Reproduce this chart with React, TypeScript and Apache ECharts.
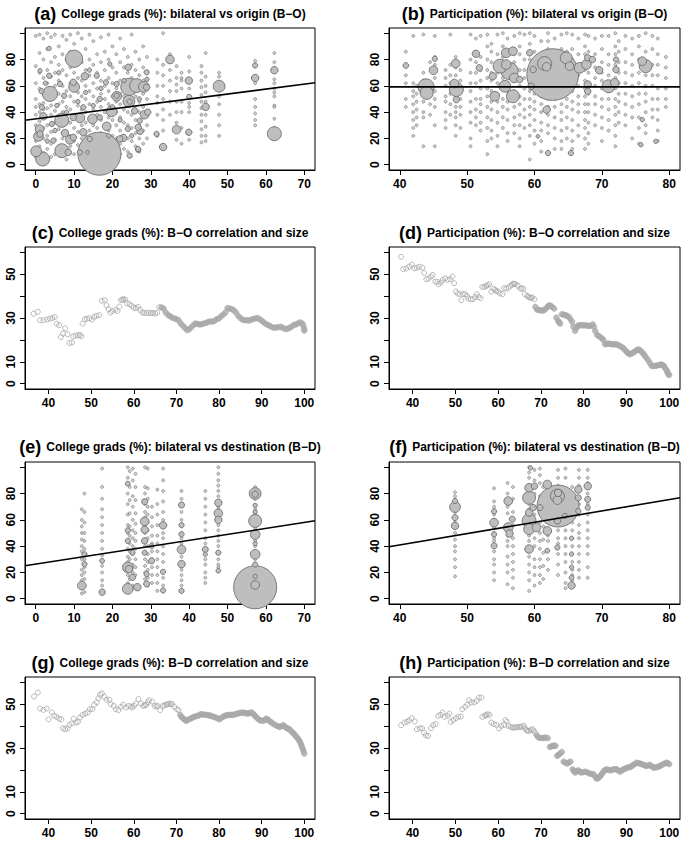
import React, { useEffect, useRef } from "react";
import * as echarts from "echarts";

// ---------- Titles ----------
const panelLetters = ["(a)", "(b)", "(c)", "(d)", "(e)", "(f)", "(g)", "(h)"];
const panelTitles = [
  "College grads (%): bilateral vs origin (B\u2212O)",
  "Participation (%): bilateral vs origin (B\u2212O)",
  "College grads (%): B\u2212O correlation and size",
  "Participation (%): B\u2212O correlation and size",
  "College grads (%): bilateral vs destination (B\u2212D)",
  "Participation (%): bilateral vs destination (B\u2212D)",
  "College grads (%): B\u2212D correlation and size",
  "Participation (%): B\u2212D correlation and size",
];

// ---------- Tick values ----------
const ticksX0to70 = [0, 10, 20, 30, 40, 50, 60, 70];
const ticksX40to80 = [40, 50, 60, 70, 80];
const ticksX40to100 = [40, 50, 60, 70, 80, 90, 100];
const ticksY0to100 = [0, 20, 40, 60, 80, 100];
const labelsY0to80 = [0, 20, 40, 60, 80];
const ticksY0to60 = [0, 10, 20, 30, 40, 50, 60];
const labelsY0to60 = [0, 10, 30, 50];

// ---------- Panel (a): College grads B-O ----------
const aDotCols: [number, number[]][] = [
  [0, [98, 75, 62, 50, 44, 38, 30, 18, 6]],
  [1, [99, 85, 70, 58, 46, 40, 33, 25, 14, 3]],
  [2, [96, 80, 66, 55, 47, 42, 36, 28, 20, 9]],
  [3, [100, 88, 72, 62, 50, 43, 30, 22, 12]],
  [4, [97, 78, 67, 57, 45, 38, 25, 16, 6]],
  [5, [99, 82, 70, 60, 52, 41, 32, 19, 8]],
  [6, [90, 76, 64, 54, 46, 37, 27, 14]],
  [7, [98, 84, 72, 60, 48, 40, 30, 20, 10]],
  [8, [95, 80, 68, 56, 44, 34, 24, 12, 4]],
  [9, [99, 86, 74, 62, 52, 42, 32, 22, 14]],
  [10, [92, 70, 58, 48, 38, 28, 18, 8]],
  [11, [100, 82, 66, 55, 45, 35, 25, 15]],
  [12, [96, 78, 64, 52, 42, 30, 20, 10]],
  [13, [88, 72, 60, 50, 40, 32, 22, 12]],
  [14, [99, 80, 68, 56, 46, 36, 26, 16]],
  [15, [94, 76, 62, 52, 42, 30, 20, 6]],
  [16, [84, 70, 58, 48, 38, 28, 18]],
  [17, [97, 78, 64, 54, 44, 34, 24]],
  [18, [86, 72, 60, 50, 40, 30]],
  [19, [99, 80, 66, 56, 46, 36, 26]],
  [20, [90, 74, 62, 52, 44, 34, 22, 14]],
  [21, [84, 70, 58, 48, 40, 30, 20, 10]],
  [22, [96, 78, 64, 54, 46, 36, 26, 16, 8]],
  [23, [88, 74, 62, 52, 42, 32, 22, 12]],
  [24, [82, 70, 58, 50, 40, 30, 20, 10]],
  [25, [99, 76, 66, 56, 46, 38, 28, 18]],
  [26, [86, 72, 62, 52, 42, 34, 24, 14]],
  [27, [80, 68, 58, 48, 40, 30, 20, 10]],
  [28, [90, 74, 64, 54, 44, 36, 26, 16]],
  [29, [82, 70, 60, 50, 40, 30, 20]],
  [31.7, [80, 70, 60, 52, 47, 38, 22]],
  [33.2, [100, 76, 68, 60, 50, 42, 34, 26]],
  [35, [84, 72, 64, 56, 48, 38]],
  [36.7, [75, 66, 61, 56, 48, 40, 32, 19]],
  [38, [70, 66, 64, 58, 48, 40, 28, 16]],
  [40, [82, 71, 58, 47, 44, 40, 19]],
  [43.2, [75, 70, 64, 59, 53, 48, 43, 38, 33, 27, 22, 17]],
  [44.3, [85, 67, 60, 55, 48, 38, 29, 22, 18]],
  [47.8, [70, 67, 52, 46, 38, 30, 22]],
  [57.2, [79, 76, 67, 65, 62, 50, 44, 39, 34, 30]],
  [62.2, [85, 78, 65, 62, 58, 55, 52, 45, 44, 35, 28]],
];
const aBubbles: [number, number, number][] = [
  [16.6, 8.4, 400], [10, 80.6, 64], [3.7, 53.9, 49], [6.8, 10.7, 42], [0.1, 10.2, 25],
  [1.8, 4.3, 42], [6.8, 33.8, 42], [14.8, 34.8, 20], [24.4, 59.2, 64], [26.3, 60.2, 42],
  [24.3, 48.3, 30], [10, 59.2, 25], [21.1, 52.1, 20], [19.8, 40.7, 25], [28.2, 59.2, 25],
  [28.4, 38.1, 16], [35, 80, 16], [36.7, 26.7, 16], [33.2, 13.5, 12], [39.9, 64, 12],
  [39.9, 24.7, 9], [40, 51.6, 6], [44.3, 44, 12], [47.8, 59.7, 30], [62.2, 23.6, 42],
  [62.2, 71.9, 12], [57.2, 66, 12], [57.2, 75.5, 6], [26.7, 11.4, 6], [1.0, 27.2, 16],
  [0.7, 21.6, 20], [2, 36.8, 12], [7.6, 24.1, 12], [11.5, 35.6, 20], [8.9, 19, 16],
  [12.8, 67.3, 12], [18.5, 29.2, 16], [22.8, 20.3, 12], [27.2, 25.4, 9],
  [3.5, 88.5, 4], [3.5, 67.7, 6], [1.1, 23.4, 9], [9.8, 62.7, 9], [12.4, 24.7, 12],
  [9.8, 36, 9], [9.8, 20.8, 9], [6.3, 61.4, 6], [7.4, 52.4, 6], [16.7, 50, 6],
  [21.1, 52.5, 6], [24.1, 74.1, 9], [24.5, 48, 6], [26.7, 28.5, 9], [26.7, 12, 6],
  [31.5, 23.4, 6], [19.3, 76.6, 4], [15.9, 67.7, 6], [18.3, 62.7, 6], [21.1, 61.4, 6],
  [25.8, 41, 9], [28.9, 58.9, 9], [28.9, 70.3, 6], [1.1, 71.5, 4], [1.5, 56, 6],
  [1.6, 43.7, 6], [4.2, 31, 6], [4.6, 18.3, 6], [8.5, 9.4, 9], [11.5, 9.4, 6],
  [14.1, 19.6, 6], [12.4, 43.7, 6], [16.7, 36, 6], [21.9, 19.6, 9], [24, 27.2, 6],
  [24.5, 6.9, 6], [27.1, 33.5, 6], [29.2, 40, 9], [13.5, 9.5, 3],
  [2.5, 62, 4], [5.5, 45, 4], [8, 40, 4], [13, 55, 4], [15, 45, 4], [17, 58, 4],
  [20, 44, 4], [22, 34, 4], [23, 64, 4], [25, 22, 4], [27, 50, 4], [29, 65, 4],
  [3, 18, 4], [5, 26, 4], [11, 48, 4], [19, 22, 4], [14, 72, 4], [6, 70, 4],
];
const aFit = { intercept: 34.9, slope: 0.377 };

// ---------- Panel (b): Participation B-O ----------
const bDotCols: [number, number[]][] = [
  [40.9, [86, 75, 68, 62, 50, 44]],
  [42, [98, 62, 56, 52, 46, 40, 34, 28, 22]],
  [42.5, [60, 54, 48, 42, 36, 30]],
  [43.5, [99, 70, 64, 56, 48, 40, 36, 14]],
  [44.5, [78, 62, 54, 46, 38]],
  [45.2, [98, 82, 76, 66, 56, 50, 44, 30, 14]],
  [46.8, [72, 66, 60, 52, 48, 40, 34, 28]],
  [47.5, [99, 76, 68, 62, 54, 46, 38]],
  [48.3, [82, 74, 68, 60, 52, 44, 40, 36, 30, 22]],
  [49, [72, 64, 56, 50, 44, 38, 28]],
  [50.5, [99, 80, 70, 62, 56, 48, 40, 32, 20, 14]],
  [51.3, [96, 78, 70, 62, 50, 42, 36, 30]],
  [52, [98, 82, 72, 64, 58, 50, 46, 40, 32, 26]],
  [53, [99, 90, 80, 72, 66, 58, 52, 44, 36, 28, 18, 8]],
  [53.6, [92, 86, 78, 70, 64, 56, 48, 42, 34, 26, 20]],
  [54.5, [99, 84, 78, 70, 62, 54, 48, 40, 32, 22, 14]],
  [55.3, [100, 90, 82, 74, 66, 58, 50, 44, 36, 28]],
  [56, [96, 68, 62, 56, 48, 42, 34, 24, 18]],
  [57, [98, 84, 78, 70, 64, 56, 44, 36, 30, 24]],
  [57.8, [100, 90, 84, 72, 66, 60, 52, 46, 38, 30, 20, 14]],
  [58.5, [99, 80, 72, 66, 58, 50, 42, 36, 28]],
  [59.3, [100, 92, 80, 72, 64, 56, 50, 44, 38, 30, 22, 4]],
  [60, [98, 86, 78, 68, 60, 54, 48, 42, 34, 26, 16]],
  [61, [94, 52, 46, 40, 32, 26, 18, 10]],
  [62, [100, 94, 88, 50, 44, 38, 30, 24]],
  [63, [96, 50, 44, 36, 28, 20, 12]],
  [64, [99, 88, 70, 60, 52, 46, 40, 34, 26, 18, 12]],
  [64.8, [100, 86, 64, 56, 50, 44, 36, 28, 20]],
  [65.6, [99, 88, 80, 70, 62, 56, 48, 42, 34, 26, 18, 12]],
  [66.5, [96, 84, 68, 60, 52, 46, 40, 30, 22]],
  [67.5, [99, 90, 84, 72, 64, 58, 52, 46, 40, 34, 28, 20, 12]],
  [68, [98, 86, 70, 62, 54, 46, 40, 32, 24, 16]],
  [69, [96, 84, 74, 66, 60, 52, 46, 38, 30]],
  [70, [98, 88, 78, 70, 64, 58, 50, 44, 36, 28, 18]],
  [71, [98, 84, 76, 68, 56, 50, 42, 34, 26]],
  [72, [100, 90, 84, 76, 66, 58, 50, 44, 38, 30, 22, 14]],
  [72.5, [94, 86, 78, 70, 62, 54, 48, 40, 32]],
  [73.5, [98, 88, 78, 70, 62, 54, 46, 38, 30]],
  [74.5, [96, 84, 76, 68, 60, 52, 44, 36, 20]],
  [75.5, [98, 90, 80, 70, 62, 54, 46, 36, 28, 16]],
  [76.5, [100, 86, 76, 68, 60, 54, 48, 40, 30, 24]],
  [77.5, [98, 88, 76, 68, 60, 50, 42, 36]],
  [78.3, [96, 84, 76, 68, 58, 50, 42, 34, 26, 18]],
  [79.5, [82, 74, 66, 58, 50, 44]],
];
const bBubbles: [number, number, number][] = [
  [62.7, 68.6, 576], [61.5, 77, 42], [61.8, 74.5, 16], [43.9, 59.2, 56], [44, 54.6, 36],
  [48.4, 57.2, 42], [48.1, 61.8, 16], [48.3, 77, 16], [48.4, 49.6, 9], [45, 71.9, 16],
  [40.9, 75.5, 7], [45.2, 80.6, 6], [51.3, 84.4, 12], [51.8, 73.7, 9], [55.8, 85.1, 20],
  [56.8, 86.4, 16], [54.9, 75, 42], [55.8, 76.2, 20], [56.3, 71.2, 64], [57, 66, 20],
  [55.6, 59.7, 30], [56.8, 52.1, 36], [54.1, 52.1, 20], [53.8, 67.3, 12], [57.8, 64.8, 9],
  [59.3, 85.1, 9], [59.8, 72.4, 9], [59.5, 59.7, 9], [61.8, 41.9, 12], [62, 8.9, 6],
  [65.4, 8.9, 6], [64.7, 81.3, 30], [65.2, 75, 16], [66.7, 73.7, 25], [67.7, 76.2, 20],
  [67.9, 81.3, 9], [68.6, 80, 9], [67.9, 61, 12], [67.9, 55.9, 9], [69.6, 71.9, 12],
  [71, 59.7, 36], [71.9, 62.3, 16], [72.1, 72.4, 9], [72.1, 80, 6], [76.5, 75, 36],
  [76, 78.8, 16], [75.8, 15.2, 4], [76, 34.3, 4], [78, 17.8, 4], [60.5, 21.6, 3],
];
const bFit = { intercept: 59.2, slope: 0 };

// ---------- Panel (e): College grads B-D ----------
const eDotCols: [number, number[]][] = [
  [12, [68, 60, 55, 50, 45, 40, 36, 30, 22, 18, 14, 8, 4]],
  [12.7, [80, 66, 58, 50, 44, 38, 30, 24, 20, 15, 10, 5]],
  [17.3, [99, 85, 76, 68, 62, 56, 50, 44, 38, 33, 25, 20, 14, 10]],
  [24, [100, 92, 80, 72, 64, 56, 50, 44, 38, 32, 28, 18, 12]],
  [24.5, [97, 85, 75, 65, 55, 48, 42, 36, 30, 22, 15]],
  [25.3, [99, 90, 78, 70, 60, 52, 46, 40, 34, 26, 20, 10]],
  [26, [95, 85, 75, 65, 57, 50, 44, 38, 30, 24, 18, 8]],
  [28.5, [100, 85, 80, 72, 66, 62, 56, 50, 45, 40, 35, 30, 25, 20, 15]],
  [29.2, [99, 84, 76, 70, 64, 58, 52, 46, 40, 34, 28, 22, 16, 10]],
  [30.3, [70, 62, 55, 48, 42, 36, 30, 24, 18, 12]],
  [31.7, [83, 72, 64, 56, 48, 42, 36, 30, 24, 18, 12, 6]],
  [33.2, [99, 90, 82, 74, 66, 60, 50, 46, 40, 34, 28, 16, 10]],
  [38, [82, 76, 66, 60, 56, 50, 46, 42, 32, 28, 22, 18, 14, 10, 6]],
  [44.2, [82, 76, 70, 64, 58, 52, 46, 42, 30, 26, 20, 16, 12]],
  [47.6, [100, 95, 90, 86, 82, 78, 70, 68, 56, 52, 48, 44, 40, 30, 26, 24]],
  [57.2, [85, 76, 68, 64, 54, 44, 40, 30, 22, 18, 15]],
];
const eBubbles: [number, number, number][] = [
  [57.2, 8.75, 400], [57.2, 80, 30], [57.2, 79.5, 9], [57.2, 59.2, 36], [57.2, 48.8, 20],
  [57.2, 33.8, 20], [57.2, 10.5, 16], [57.2, 26, 6], [57.2, 71, 4], [57.2, 66, 4],
  [57.2, 42, 4], [57.2, 17, 4], [38, 37.5, 16], [38, 26.3, 12], [38, 71.3, 8],
  [38, 56, 6], [38, 49, 6], [38, 6, 6], [44.2, 37.5, 8], [44.2, 33.8, 4],
  [47.6, 73, 12], [47.6, 65, 16], [47.6, 60, 12], [47.6, 35, 6], [47.6, 21.3, 5],
  [24, 23.8, 25], [24.3, 22.5, 12], [24, 7.5, 25], [26.5, 8.8, 12], [28.4, 58.8, 16],
  [28.4, 52.5, 12], [28.4, 73.8, 8], [28.9, 11.3, 8], [28.9, 18.8, 6], [30.2, 28.8, 8],
  [33.2, 55.8, 12], [33.2, 6.3, 6], [33.2, 20.5, 6], [12, 10, 16], [12.7, 26.3, 6],
  [12.7, 33.8, 6], [17.3, 5, 9], [17.3, 28.8, 5], [24, 87.5, 5], [25.2, 16.3, 9],
  [24, 44, 6], [24, 52, 6], [28.4, 44, 9], [28.4, 35, 6], [25.2, 35, 6], [30.2, 40, 5],
];
const eFit = { intercept: 26.3, slope: 0.453 };

// ---------- Panel (f): Participation B-D ----------
const fDotCols: [number, number[]][] = [
  [48.2, [81, 78, 66, 58, 50, 45, 40, 36, 30, 24, 17]],
  [54, [84, 74, 70, 64, 60, 54, 50, 46, 44, 36, 30, 26, 20, 14]],
  [56, [88, 80, 70, 65, 48, 44, 40, 32, 26, 20, 11]],
  [56.8, [85, 76, 66, 56, 46, 40, 34, 28, 22, 16, 8]],
  [59.2, [100, 96, 92, 72, 68, 48, 44, 32, 26, 20, 14, 6]],
  [60, [98, 90, 80, 70, 64, 46, 40, 30, 24, 18, 10]],
  [60.8, [99, 94, 88, 78, 68, 58, 50, 44, 38, 30, 24, 18, 12]],
  [61.3, [85, 75, 65, 55, 45, 35, 25, 15]],
  [62, [82, 74, 66, 58, 48, 44, 30, 22]],
  [63.5, [98, 92, 86, 60, 52, 46, 42, 34, 26, 18]],
  [64.6, [99, 92, 82, 74, 68, 58, 52, 46, 40, 34, 28, 20, 12, 8]],
  [65.6, [85, 78, 70, 64, 58, 52, 46, 40, 34, 28, 22, 18, 14]],
  [66.6, [98, 92, 86, 72, 64, 56, 50, 46, 40, 34, 28, 22, 16]],
  [67.9, [98, 92, 88, 80, 72, 64, 58, 52, 46, 40, 34, 24, 16]],
];
const fBubbles: [number, number, number][] = [
  [63.5, 70.5, 380], [63.4, 78, 42], [63.4, 75, 16], [63.5, 80.5, 12], [48.2, 69.8, 25],
  [48.2, 55.4, 12], [48.2, 61.7, 8], [48.2, 74.3, 6], [54, 57.9, 16], [54, 40.3, 8],
  [54, 66.5, 6], [54, 49, 6], [56.1, 74.3, 16], [56.1, 54.2, 20], [56.3, 49.6, 12],
  [56.7, 60.5, 8], [59.2, 84.4, 16], [59.2, 76.8, 36], [59.2, 59.2, 42], [59.2, 52.9, 25],
  [59.2, 37.8, 16], [59.2, 65.5, 12], [59.8, 69.3, 9], [60.3, 54.2, 16], [60, 85.6, 9],
  [61.9, 86.9, 16], [61.9, 51.6, 16], [61.9, 36.5, 5], [63.4, 39, 6], [63.4, 59.2, 9],
  [66.5, 83.1, 12], [66.5, 76.8, 8], [66.5, 66.7, 6], [67.9, 85.6, 12], [67.9, 75.6, 8],
  [67.9, 69.3, 6], [65.5, 10.1, 12], [65.5, 16, 5], [65.5, 24, 4], [65.5, 34, 4],
  [65.5, 46, 4], [64.5, 63, 6], [59.4, 99.5, 4], [60.8, 69.3, 8],
];
const fFit = { intercept: 40.9, slope: 0.863, x0: 40 };

// ---------- Panels (c,d,g,h): correlation vs size ----------
const cPts: [number, number][] = [
  [36.5, 32.0], [37.5, 32.8], [38.0, 29.0], [38.8, 29.0], [39.6, 29.3], [40.3, 29.7], [40.9, 30.0], [41.5, 30.5],
  [41.9, 27.4], [42.5, 26.7], [42.9, 21.3], [43.4, 22.9], [43.9, 25.3], [44.5, 22.6], [44.9, 18.6], [45.5, 18.8],
  [45.8, 21.6], [46.4, 22.0], [47.0, 22.1], [47.4, 22.3], [47.7, 21.6], [48.0, 27.4], [48.5, 29.4], [49.0, 29.7],
  [49.6, 29.9], [50.2, 29.3], [50.7, 30.5], [51.3, 31.0], [51.9, 31.3], [52.5, 37.8], [53.2, 38.1], [53.6, 35.8],
  [54.1, 34.0], [54.5, 32.5], [55.0, 33.2], [55.7, 33.7], [56.2, 33.2], [56.6, 35.2], [57.0, 38.1], [57.3, 38.4],
  [57.6, 38.6], [58.0, 38.4], [58.4, 36.7], [59.0, 36.3], [59.5, 35.5], [60.0, 34.8], [60.5, 34.5], [61.0, 35.0],
  [61.5, 33.7], [62.0, 32.5], [62.5, 32.3], [63.0, 32.3], [63.5, 32.4], [64.0, 32.2], [64.5, 32.3], [65.0, 32.0],
  [65.5, 32.4], [66.0, 35.0], [66.5, 34.8], [67.0, 34.3], [67.5, 32.5], [68.0, 31.5], [68.5, 30.8], [69.0, 30.2],
  [69.5, 29.8], [70.0, 29.5], [70.5, 29.0], [71.0, 27.5], [71.5, 26.5], [72.0, 25.5], [72.5, 24.5], [73.0, 24.8],
  [73.5, 25.8], [74.0, 26.8], [74.5, 27.5], [75.0, 27.3], [75.5, 27.0], [76.0, 27.2], [76.5, 27.5], [77.0, 27.8],
  [77.5, 28.2], [78.0, 28.5], [78.5, 28.3], [79.0, 28.8], [79.5, 29.5], [80.0, 29.8], [80.5, 30.8], [81.0, 31.5],
  [81.5, 32.5], [82.0, 34.5], [82.5, 34.3], [83.0, 34.0], [83.5, 33.5], [84.0, 32.5], [84.5, 31.0], [85.0, 30.0],
  [85.5, 29.3], [86.0, 29.0], [86.5, 29.0], [87.0, 28.8], [87.5, 29.2], [88.0, 29.5], [88.5, 29.8], [89.0, 30.0],
  [89.5, 29.5], [90.0, 28.8], [90.5, 28.0], [91.0, 27.3], [91.5, 26.8], [92.0, 26.3], [92.5, 25.8], [93.0, 25.5],
  [93.5, 25.7], [94.0, 25.8], [94.5, 26.0], [95.0, 25.5], [95.5, 25.0], [96.0, 25.0], [96.5, 25.5], [97.0, 26.0],
  [97.5, 26.8], [98.0, 27.0], [98.5, 27.5], [99.0, 28.0], [99.5, 27.5], [99.8, 26.5], [100.0, 25.0], [100.0, 24.2],
];
const dPts: [number, number][] = [
  [37.3, 57.9], [37.8, 52.3], [38.5, 52.6], [39.2, 53.5], [39.8, 54.3], [40.4, 52.7], [41.0, 53.0], [41.6, 53.4],
  [42.3, 53.0], [42.7, 50.6], [43.2, 47.7], [43.7, 48.0], [44.3, 48.9], [44.7, 49.7], [45.3, 46.6], [45.8, 46.5],
  [46.1, 45.4], [46.6, 46.2], [47.0, 47.3], [47.6, 48.0], [48.2, 47.4], [48.8, 47.7], [49.3, 48.9], [49.7, 45.9],
  [50.1, 42.1], [50.5, 41.2], [51.0, 40.9], [51.4, 38.1], [51.8, 40.9], [52.3, 40.9], [52.7, 40.1], [53.0, 38.9],
  [53.6, 38.6], [54.1, 38.6], [54.6, 39.6], [55.0, 40.9], [55.4, 39.6], [55.9, 39.0], [56.3, 44.2], [56.8, 44.2],
  [57.2, 44.6], [57.5, 45.0], [57.9, 45.4], [58.4, 42.1], [58.9, 43.4], [59.3, 42.8], [59.6, 42.3], [60.0, 42.1],
  [60.4, 41.2], [61.0, 40.9], [61.4, 43.6], [61.9, 43.4], [62.4, 43.9], [62.9, 44.7], [63.2, 45.2], [63.5, 45.7],
  [63.8, 45.6], [64.1, 45.4], [64.6, 44.7], [65.2, 43.4], [65.5, 43.5], [65.9, 43.4], [66.2, 40.9], [66.8, 40.1],
  [67.1, 39.6], [67.4, 39.3], [67.7, 39.2], [68.0, 39.3], [68.5, 38.6], [68.7, 35.1], [69.1, 33.8], [69.5, 33.6],
  [69.9, 33.5], [70.3, 33.4], [70.7, 33.5], [71.0, 34.0], [71.4, 34.8], [71.7, 35.4], [72.0, 35.8], [72.3, 35.5],
  [72.6, 35.1], [73.1, 34.3], [73.6, 30.2], [74.0, 28.7], [74.3, 28.0], [74.5, 27.4], [74.9, 31.7], [75.3, 31.5],
  [75.7, 31.3], [76.1, 31.0], [76.5, 30.5], [76.9, 29.5], [77.3, 28.2], [77.6, 26.0], [78.0, 24.1], [78.3, 25.5],
  [78.6, 26.4], [78.9, 26.6], [79.2, 26.7], [79.6, 26.7], [80.0, 26.6], [80.4, 26.7], [80.8, 26.5], [81.2, 26.4],
  [81.5, 26.4], [82.1, 27.1], [82.4, 26.0], [82.7, 24.1], [83.1, 22.3], [83.5, 21.8], [83.9, 21.3], [84.3, 20.6],
  [84.6, 20.0], [85.0, 18.0], [85.4, 18.2], [85.8, 18.3], [86.2, 18.2], [86.6, 18.0], [87.0, 18.0], [87.3, 18.0],
  [87.7, 18.0], [88.1, 17.6], [88.5, 17.2], [88.9, 16.7], [89.3, 16.2], [89.7, 15.3], [90.1, 14.5], [90.4, 13.9],
  [90.8, 13.4], [91.2, 13.8], [91.6, 14.2], [92.0, 14.8], [92.4, 15.3], [92.8, 15.7], [93.2, 15.2], [93.6, 14.5],
  [94.0, 13.6], [94.3, 12.7], [94.7, 11.7], [95.1, 10.7], [95.5, 9.4], [95.9, 8.1], [96.3, 8.1], [96.7, 8.1],
  [97.1, 8.3], [97.5, 8.5], [97.9, 8.6], [98.2, 8.8], [98.5, 8.4], [98.8, 8.1], [99.1, 7.0], [99.4, 6.1],
  [99.6, 5.2], [99.8, 4.3], [100.0, 4.0],
];
const gPts: [number, number][] = [
  [36.6, 53.5], [37.5, 55.3], [38.0, 48.0], [38.8, 47.4], [39.6, 48.0], [40.0, 43.1], [40.8, 46.2], [41.3, 44.7],
  [41.9, 44.2], [42.5, 43.4], [43.0, 43.1], [43.4, 39.0], [43.9, 38.6], [44.5, 38.9], [44.9, 40.5], [45.5, 41.2],
  [45.9, 43.4], [46.4, 41.6], [46.9, 41.9], [47.4, 43.9], [48.0, 45.1], [48.6, 45.7], [49.2, 46.2], [49.7, 47.7],
  [50.3, 47.7], [50.7, 49.7], [51.3, 50.8], [51.7, 52.7], [52.1, 54.3], [52.5, 54.9], [53.1, 53.4], [53.6, 52.0],
  [54.3, 52.0], [54.6, 50.0], [55.3, 49.2], [55.8, 47.7], [56.4, 47.3], [57.0, 48.8], [57.5, 49.7], [58.2, 48.5],
  [58.8, 49.2], [59.3, 48.9], [59.7, 48.5], [60.1, 49.3], [60.5, 50.3], [61.1, 52.3], [61.7, 50.3], [62.2, 49.2],
  [62.6, 49.5], [62.9, 49.7], [63.3, 50.8], [63.6, 51.8], [64.3, 51.2], [64.9, 49.2], [65.3, 49.0], [65.6, 49.2],
  [66.2, 47.3], [66.8, 49.2], [67.2, 49.5], [67.6, 49.7], [68.0, 50.0], [68.3, 50.3], [68.7, 50.1], [69.0, 50.0],
  [69.5, 48.8], [70.1, 47.7], [70.5, 47.3], [70.9, 45.1], [71.2, 44.2], [71.5, 43.6], [71.9, 43.0], [72.3, 42.4],
  [72.6, 42.8], [73.0, 43.1], [73.4, 43.5], [73.8, 43.9], [74.2, 44.2], [74.6, 44.5], [75.0, 44.7], [75.4, 45.0],
  [75.8, 45.4], [76.2, 45.3], [76.6, 45.2], [77.0, 45.1], [77.4, 45.0], [77.8, 44.8], [78.1, 44.7], [78.5, 44.4],
  [78.9, 44.1], [79.3, 43.9], [79.7, 43.5], [80.1, 43.1], [80.5, 43.6], [80.9, 44.2], [81.3, 44.6], [81.7, 44.9],
  [82.1, 45.1], [82.5, 45.1], [82.9, 45.1], [83.2, 45.1], [83.6, 45.3], [84.0, 45.5], [84.4, 45.7], [84.8, 45.9],
  [85.2, 46.1], [85.6, 46.2], [86.0, 46.0], [86.4, 45.8], [86.7, 45.7], [87.1, 45.9], [87.4, 46.1], [87.7, 46.2],
  [88.1, 45.4], [88.4, 44.8], [88.7, 44.2], [89.1, 43.4], [89.5, 42.7], [89.9, 42.5], [90.4, 42.4], [90.8, 42.9],
  [91.1, 43.4], [91.5, 42.9], [91.8, 42.4], [92.2, 41.8], [92.6, 41.2], [93.1, 40.6], [93.6, 40.1], [94.0, 39.8],
  [94.3, 39.6], [94.7, 40.0], [95.1, 40.4], [95.5, 39.7], [95.9, 39.0], [96.2, 38.8], [96.5, 38.6], [96.9, 37.8],
  [97.3, 37.0], [97.6, 36.4], [97.9, 35.8], [98.2, 35.0], [98.5, 34.3], [98.8, 33.5], [99.0, 32.8], [99.2, 31.8],
  [99.4, 30.9], [99.6, 29.8], [99.8, 28.7], [100.0, 27.4],
];
const hPts: [number, number][] = [
  [37.3, 40.4], [38.1, 41.6], [38.7, 41.9], [39.2, 42.7], [39.8, 43.6], [40.5, 42.1], [41.0, 38.6], [41.7, 39.0],
  [42.2, 39.0], [42.7, 37.0], [43.1, 35.8], [43.6, 35.5], [44.3, 39.0], [44.8, 40.5], [45.4, 40.9], [46.0, 44.7],
  [46.6, 45.1], [47.0, 46.2], [47.5, 44.2], [48.2, 44.7], [48.6, 45.7], [48.9, 41.9], [49.5, 42.7], [50.1, 43.6],
  [50.7, 44.2], [51.3, 44.4], [51.6, 47.7], [52.3, 48.8], [52.8, 49.7], [53.2, 51.8], [53.7, 50.8], [54.4, 50.8],
  [55.0, 51.5], [55.5, 53.0], [56.1, 53.0], [56.3, 44.2], [56.9, 44.7], [57.2, 45.0], [57.5, 45.4], [58.0, 45.1],
  [58.4, 41.6], [59.0, 40.9], [59.6, 40.5], [60.2, 39.0], [60.7, 40.1], [61.4, 40.5], [61.7, 42.8], [62.0, 42.0],
  [62.4, 40.1], [62.9, 39.6], [63.3, 39.4], [63.7, 39.3], [64.1, 39.4], [64.5, 39.6], [64.9, 39.6], [65.2, 39.6],
  [65.6, 39.8], [66.0, 40.1], [66.3, 39.0], [66.6, 38.1], [66.9, 37.9], [67.2, 37.8], [67.6, 38.2], [68.0, 38.6],
  [68.3, 38.0], [68.7, 37.0], [69.0, 35.8], [69.4, 34.8], [69.8, 34.6], [70.3, 34.5], [70.7, 34.6], [71.1, 34.8],
  [71.6, 34.5], [72.1, 30.5], [72.5, 30.8], [72.8, 31.0], [73.1, 31.0], [73.4, 31.0], [73.8, 26.4], [74.1, 26.9],
  [74.5, 27.4], [74.9, 28.2], [75.3, 23.8], [75.7, 23.3], [76.1, 22.9], [76.5, 23.3], [76.9, 23.8], [77.4, 20.3],
  [77.7, 19.5], [78.0, 18.8], [78.4, 19.3], [78.7, 19.8], [79.0, 19.3], [79.4, 18.8], [79.9, 19.0], [80.4, 19.2],
  [80.9, 18.8], [81.4, 18.3], [81.8, 18.2], [82.3, 18.0], [82.7, 17.0], [83.0, 16.0], [83.3, 16.2], [83.5, 16.5],
  [83.8, 17.0], [84.1, 17.7], [84.4, 18.6], [84.7, 19.5], [85.0, 19.9], [85.4, 20.3], [85.8, 20.0], [86.2, 19.8],
  [86.6, 20.0], [87.0, 20.3], [87.4, 20.3], [87.7, 20.3], [88.1, 19.8], [88.5, 19.2], [88.9, 19.7], [89.3, 20.3],
  [89.7, 20.6], [90.1, 21.0], [90.5, 21.2], [90.9, 21.3], [91.3, 21.8], [91.6, 22.3], [92.0, 22.8], [92.4, 23.3],
  [92.8, 23.1], [93.2, 22.9], [93.6, 22.6], [94.0, 22.3], [94.4, 22.0], [94.7, 21.8], [95.1, 22.0], [95.5, 22.3],
  [95.9, 21.6], [96.3, 21.0], [96.7, 21.1], [97.1, 21.3], [97.5, 21.5], [97.8, 21.8], [98.2, 22.2], [98.6, 22.6],
  [99.0, 23.0], [99.4, 23.3], [99.7, 23.0], [100.0, 22.6],
];
// x beyond which the points crowd into a solid band
const cDenseFrom = 66.5;
const dDenseFrom = 68.6;
const gDenseFrom = 70.8;
const hDenseFrom = 69;

// ---------- Layout ----------
const FONT = "'Liberation Sans', Arial, Helvetica, sans-serif";
const rowTops = [28, 247, 462, 677];
const titleYs = [14, 233, 447, 663];
const colLefts = [25, 389];
const colWidths = [290, 291];
const plotH = 142;

type Range = { min: number; max: number };
const rA: Range = { min: -2.8, max: 72.8 };
const rB: Range = { min: 38.4, max: 81.6 };
const rC: Range = { min: 34.48, max: 102.52 };
const rY100: Range = { min: -4, max: 104 };
const rY60: Range = { min: -2.4, max: 62.4 };

function flattenCols(cols: [number, number[]][]) {
  const out: number[][] = [];
  cols.forEach(([x, ys]) => ys.forEach((y) => out.push([x, y])));
  return out;
}

export default function App() {
  const ref = useRef<HTMLDivElement>(null);
  useEffect(() => {
    if (!ref.current) return;
    const chart = echarts.init(ref.current, undefined, { renderer: "svg" });

    const grids: any[] = [];
    const xAxes: any[] = [];
    const yAxes: any[] = [];
    const series: any[] = [];
    const graphics: any[] = [];

    const axisCommon = {
      type: "value",
      splitLine: { show: false },
      axisLine: { show: true, onZero: false, lineStyle: { color: "#000", width: 1 } },
      axisTick: { show: true, length: 5, lineStyle: { color: "#000", width: 1 } },
    };
    const labelCommon = {
      color: "#000",
      fontWeight: "bold",
      fontSize: 12,
      fontFamily: FONT,
      margin: 8,
    };

    const panels = [
      { xr: rA, xt: ticksX0to70, yr: rY100, yt: ticksY0to100, yl: labelsY0to80 },
      { xr: rB, xt: ticksX40to80, yr: rY100, yt: ticksY0to100, yl: labelsY0to80 },
      { xr: rC, xt: ticksX40to100, yr: rY60, yt: ticksY0to60, yl: labelsY0to60 },
      { xr: rC, xt: ticksX40to100, yr: rY60, yt: ticksY0to60, yl: labelsY0to60 },
      { xr: rA, xt: ticksX0to70, yr: rY100, yt: ticksY0to100, yl: labelsY0to80 },
      { xr: rB, xt: ticksX40to80, yr: rY100, yt: ticksY0to100, yl: labelsY0to80 },
      { xr: rC, xt: ticksX40to100, yr: rY60, yt: ticksY0to60, yl: labelsY0to60 },
      { xr: rC, xt: ticksX40to100, yr: rY60, yt: ticksY0to60, yl: labelsY0to60 },
    ];

    panels.forEach((p, i) => {
      const row = Math.floor(i / 2);
      const col = i % 2;
      const left = colLefts[col];
      const width = colWidths[col];
      const top = rowTops[row];
      grids.push({
        left, top, width, height: plotH,
        show: true, borderColor: "#000", borderWidth: 1, backgroundColor: "transparent",
        containLabel: false,
      });
      xAxes.push({
        ...axisCommon,
        gridIndex: i,
        min: p.xr.min,
        max: p.xr.max,
        axisTick: { ...axisCommon.axisTick, customValues: p.xt },
        axisLabel: { ...labelCommon, customValues: p.xt },
      });
      yAxes.push({
        ...axisCommon,
        gridIndex: i,
        min: p.yr.min,
        max: p.yr.max,
        axisTick: { ...axisCommon.axisTick, customValues: p.yt },
        axisLabel: { ...labelCommon, rotate: 90, customValues: p.yl },
      });
      graphics.push({
        type: "text",
        x: left + width / 2,
        y: titleYs[row],
        silent: true,
        style: {
          text: `{p|${panelLetters[i]} }{t|${panelTitles[i]}}`,
          rich: {
            p: { fontSize: 18, fontWeight: "bold", fontFamily: FONT, fill: "#000" },
            t: { fontSize: 12, fontWeight: "bold", fontFamily: FONT, fill: "#000" },
          },
          align: "center",
          verticalAlign: "middle",
          textAlign: "center",
          textVerticalAlign: "middle",
          fill: "#000",
        },
      });
    });

    const addBubblePanel = (
      idx: number,
      cols: [number, number[]][],
      bubbles: [number, number, number][],
      fit: { intercept: number; slope: number; x0?: number },
      xr: Range
    ) => {
      series.push({
        type: "scatter",
        xAxisIndex: idx,
        yAxisIndex: idx,
        data: flattenCols(cols),
        symbol: "circle",
        symbolSize: 3,
        silent: true,
        clip: true,
        itemStyle: { color: "#c4c4c4", borderColor: "#6e6e6e", borderWidth: 0.7 },
      });
      const sorted = bubbles.slice().sort((a, b) => b[2] - a[2]);
      series.push({
        type: "scatter",
        xAxisIndex: idx,
        yAxisIndex: idx,
        data: sorted,
        symbol: "circle",
        symbolSize: (v: number[]) => 2.15 * Math.sqrt(v[2]),
        silent: true,
        clip: true,
        itemStyle: { color: "#bebebe", borderColor: "#6e6e6e", borderWidth: 0.9, opacity: 1 },
      });
      const x0 = fit.x0 ?? 0;
      const fy = (x: number) => fit.intercept + fit.slope * (x - x0);
      series.push({
        type: "line",
        xAxisIndex: idx,
        yAxisIndex: idx,
        data: [
          [xr.min, fy(xr.min)],
          [xr.max, fy(xr.max)],
        ],
        symbol: "none",
        silent: true,
        clip: true,
        lineStyle: { color: "#000", width: 1.6 },
        z: 5,
      });
    };

    const addCorrPanel = (idx: number, pts: [number, number][], denseFrom: number) => {
      const sparse = pts.filter((p) => p[0] < denseFrom);
      const dense = pts.filter((p) => p[0] >= denseFrom);
      series.push({
        type: "scatter",
        xAxisIndex: idx,
        yAxisIndex: idx,
        data: sparse,
        symbol: "circle",
        symbolSize: 5,
        silent: true,
        itemStyle: { color: "rgba(255,255,255,0)", borderColor: "#a6a6a6", borderWidth: 1 },
      });
      series.push({
        type: "scatter",
        xAxisIndex: idx,
        yAxisIndex: idx,
        data: dense,
        symbol: "circle",
        symbolSize: 5.5,
        silent: true,
        itemStyle: { color: "#ababab", borderColor: "#a6a6a6", borderWidth: 0.8 },
      });
    };

    addBubblePanel(0, aDotCols, aBubbles, aFit, rA);
    addBubblePanel(1, bDotCols, bBubbles, bFit, rB);
    addCorrPanel(2, cPts, cDenseFrom);
    addCorrPanel(3, dPts, dDenseFrom);
    addBubblePanel(4, eDotCols, eBubbles, eFit, rA);
    addBubblePanel(5, fDotCols, fBubbles, fFit, rB);
    addCorrPanel(6, gPts, gDenseFrom);
    addCorrPanel(7, hPts, hDenseFrom);

    chart.setOption({
      animation: false,
      backgroundColor: "#fff",
      grid: grids,
      xAxis: xAxes,
      yAxis: yAxes,
      series,
      graphic: graphics,
    });

    return () => chart.dispose();
  }, []);

  return (
    <div
      ref={ref}
      style={{ position: "fixed", left: 0, top: 0, width: 685, height: 844, background: "#fff" }}
    />
  );
}
